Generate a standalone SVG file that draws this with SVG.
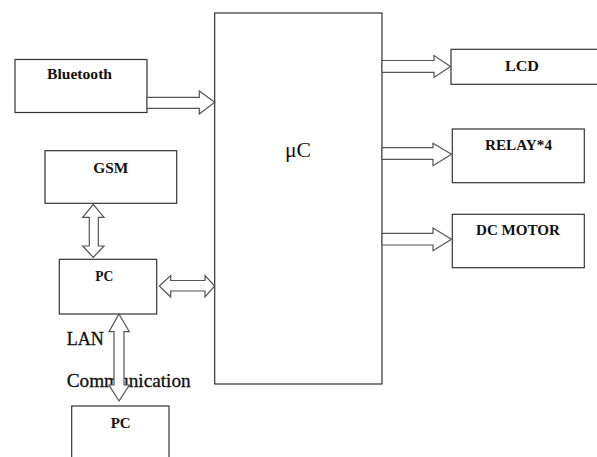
<svg xmlns="http://www.w3.org/2000/svg" width="597" height="457" viewBox="0 0 597 457">
<style>
.box{fill:#fff;stroke:#333;stroke-width:1.2}
.arr{fill:#fff;stroke:#555;stroke-width:1.2;stroke-linejoin:miter}
.lbl{font-family:"Liberation Serif","Times New Roman",serif;font-weight:bold;font-size:14px;fill:#111}
.big{font-family:"Liberation Serif","Times New Roman",serif;font-size:18px;fill:#111;stroke:#111;stroke-width:0.3}
.uc{font-family:"Liberation Serif","Times New Roman",serif;font-size:22px;fill:#111}
</style>
<rect width="597" height="457" fill="#fff"/>
<g id="uC"><rect class="box" x="214.7" y="13" width="167.3" height="371"/><text class="uc" x="285" y="157" textLength="26" lengthAdjust="spacingAndGlyphs">μC</text></g>
<g id="bluetooth"><rect class="box" x="15" y="59.5" width="132" height="53"/><text class="lbl" x="47" y="79.3" textLength="65" lengthAdjust="spacingAndGlyphs">Bluetooth</text></g>
<g id="gsm"><rect class="box" x="45" y="150.7" width="131.7" height="52.6"/><text class="lbl" x="93.3" y="172.7" textLength="35" lengthAdjust="spacingAndGlyphs">GSM</text></g>
<g id="pc1"><rect class="box" x="59.3" y="259.3" width="97.4" height="54.7"/><text class="lbl" x="95.3" y="280.7" textLength="18" lengthAdjust="spacingAndGlyphs">PC</text></g>
<g id="pc2"><rect class="box" x="71.7" y="406" width="97.3" height="60"/><text class="lbl" x="110.7" y="427.7" textLength="20" lengthAdjust="spacingAndGlyphs">PC</text></g>
<g id="lcd"><rect class="box" x="451" y="49.3" width="150" height="35"/><text class="lbl" x="505" y="70.7" textLength="34" lengthAdjust="spacingAndGlyphs">LCD</text></g>
<g id="relay"><rect class="box" x="452.3" y="129" width="132" height="53.7"/><text class="lbl" x="485" y="150" textLength="67" lengthAdjust="spacingAndGlyphs">RELAY*4</text></g>
<g id="dcmotor"><rect class="box" x="452.3" y="214.3" width="132" height="53.4"/><text class="lbl" x="476" y="235" textLength="84" lengthAdjust="spacingAndGlyphs">DC MOTOR</text></g>
<g id="labels"><text class="big" x="66.7" y="345" textLength="37" lengthAdjust="spacingAndGlyphs">LAN</text><text class="big" x="66.7" y="386.7" textLength="124" lengthAdjust="spacingAndGlyphs">Communication</text></g>
<g id="connectors">
<polygon class="arr" points="147,97.3 199.3,97.3 199.3,91 214.7,102.3 199.3,114 199.3,108.3 147,108.3"/>
<polygon class="arr" points="382,60.5 434,60.5 434,55.5 450.5,66.5 434,77.5 434,72.3 382,72.3"/>
<polygon class="arr" points="382,147.7 433,147.7 433,143.3 451.5,154.3 433,165.7 433,159.3 382,159.3"/>
<polygon class="arr" points="382,233.3 433,233.3 433,228 451.5,239.3 433,250.7 433,245 382,245"/>
<polygon class="arr" points="93.3,204.3 104,217.3 98.3,217.3 98.3,246 104,246 93.3,257.3 82.7,246 89.3,246 89.3,217.3 82.7,217.3"/>
<polygon class="arr" points="159.3,286 170.7,275.5 170.7,280.5 205,280.5 205,275.5 214.7,286 205,297 205,291 170.7,291 170.7,297"/>
<polygon class="arr" points="119,314 129.3,331.7 124,331.7 124,385 129.3,385 119,401 109,385 114,385 114,331.7 109,331.7"/>
</g>
</svg>
